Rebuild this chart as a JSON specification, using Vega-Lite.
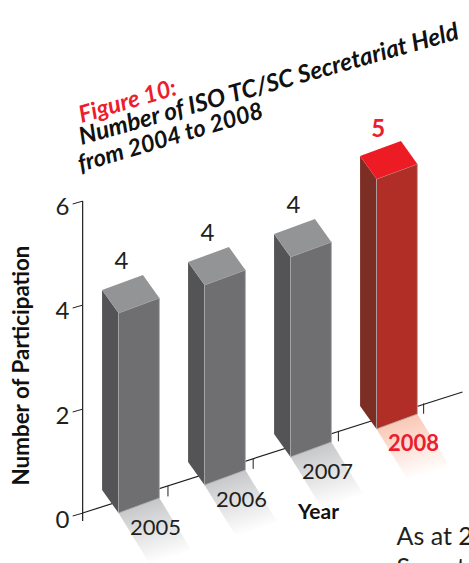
{
"$schema":"https://vega.github.io/schema/vega-lite/v6.json",
"width":469,"height":563,"padding":0,"autosize":{"type":"none"},"background":"white",
"config":{"view":{"stroke":null},"font":"Lato","axis":{"grid":false}},
"resolve":{"axis":{"x":"independent","y":"independent"}},
"datasets":{
"bars":[{"year":2005,"value":4},{"year":2006,"value":4},{"year":2007,"value":4},{"year":2008,"value":5}],
"ticks":[{"tick":0},{"tick":2},{"tick":4},{"tick":6}]
},
"layer":[
{"data":{"name":"ticks"},"mark":{"type":"rule","color":"#231f20","strokeWidth":1},
"transform":[{"calculate":"datum.tick+0.055","as":"tickEnd"}],
"encoding":{
"x":{"datum":2004.467,"type":"quantitative","scale":{"domain":[2003.622,2009.0756],"nice":false,"zero":false},
"axis":{"title":"Year","domain":false,"ticks":false,"labels":false,"titleX":318,"titleY":-51,"titleFontSize":21,"titleFontWeight":"bold","titleColor":"#111","titleBaseline":"middle"}},
"x2":{"datum":2004.583},
"y":{"field":"tick","type":"quantitative","scale":{"domain":[-0.9038,9.923],"nice":false,"zero":false},
"axis":{"values":[0,2,4,6],"title":"Number of Participation","domain":false,"ticks":false,"offset":-83,"labelPadding":14,"labelOffset":4,"labelFontSize":24,"labelColor":"#231f20","labelFontWeight":"normal","titleX":-50,"titleY":365,"titleFontSize":22.4,"titleFontWeight":"bold","titleColor":"#111"}},
"y2":{"field":"tickEnd"}}},
{"data":{"name":"ticks"},"transform":[{"filter":"datum.tick==0"}],"mark":{"type":"rule","color":"#231f20","strokeWidth":1.2},
"encoding":{"x":{"datum":2004.583,"type":"quantitative","axis":null},"y":{"datum":6.058,"type":"quantitative","axis":null},"y2":{"datum":-0.096}}},
{"data":{"name":"ticks"},"transform":[{"filter":"datum.tick==0"}],"mark":{"type":"rule","color":"#231f20","strokeWidth":1.2},
"encoding":{"x":{"datum":2004.583,"type":"quantitative","axis":null},"x2":{"datum":2009.0},"y":{"datum":0.0577,"type":"quantitative","axis":null},"y2":{"datum":2.385}}},
{"data":{"name":"bars"},"mark":{"type":"rule","color":"#231f20","strokeWidth":1},
"transform":[{"calculate":"datum.year+0.575+(datum.year-2005)*(-0.009)","as":"tx"},{"calculate":"0.577+(datum.year-2005)*0.5295","as":"ty"},{"calculate":"datum.ty-0.2","as":"ty2"}],
"encoding":{"x":{"field":"tx","type":"quantitative","axis":null},"y":{"field":"ty","type":"quantitative","axis":null},"y2":{"field":"ty2"}}},
{"data":{"name":"bars"},"mark":{"type":"line","interpolate":"linear-closed","strokeWidth":0,"stroke":null},
"transform":[
{"calculate":"0.0577+0.5385*(datum.year-2005)","as":"b"},
{"calculate":"[datum.year,datum.year+0.475,datum.year+0.846,datum.year+0.371]","as":"xs"},
{"calculate":"[datum.b,datum.b+0.288,datum.b-0.712,datum.b-1.0]","as":"ys"},
{"calculate":"[0,1,2,3]","as":"k"},
{"flatten":["xs","ys","k"]}],
"encoding":{"x":{"field":"xs","type":"quantitative","axis":null},"y":{"field":"ys","type":"quantitative","axis":null},"order":{"field":"k"},"detail":{"field":"year"},
"fill":{"condition":{"test":"datum.year==2008","value":{"gradient":"linear","x1":0.25,"y1":0.05,"x2":0.55,"y2":0.95,"stops":[{"offset":0,"color":"#f9c4b0"},{"offset":1,"color":"#ffffff"}]}},
"value":{"gradient":"linear","x1":0.25,"y1":0.05,"x2":0.55,"y2":0.95,"stops":[{"offset":0,"color":"#c3c4c6"},{"offset":1,"color":"#ffffff"}]}}}},
{"data":{"name":"bars"},"mark":{"type":"line","interpolate":"linear-closed","strokeWidth":0,"stroke":null},
"transform":[
{"calculate":"0.0577+0.5385*(datum.year-2005)","as":"b"},{"calculate":"datum.b+0.9615*datum.value","as":"t"},
{"calculate":"[datum.year,datum.year-0.191,datum.year-0.191,datum.year]","as":"xs"},
{"calculate":"[datum.b,datum.b+0.442,datum.t+0.442,datum.t]","as":"ys"},
{"calculate":"[0,1,2,3]","as":"k"},
{"flatten":["xs","ys","k"]}],
"encoding":{"x":{"field":"xs","type":"quantitative","axis":null},"y":{"field":"ys","type":"quantitative","axis":null},"order":{"field":"k"},"detail":{"field":"year"},
"fill":{"condition":{"test":"datum.year==2008","value":"#7d2e24"},"value":"#545355"}}},
{"data":{"name":"bars"},"mark":{"type":"line","interpolate":"linear-closed","strokeWidth":0.8,"stroke":"#a9a9ab"},
"transform":[
{"calculate":"0.0577+0.5385*(datum.year-2005)","as":"b"},{"calculate":"datum.b+0.9615*datum.value","as":"t"},
{"calculate":"[datum.year,datum.year+0.475,datum.year+0.475,datum.year]","as":"xs"},
{"calculate":"[datum.b,datum.b+0.288,datum.t+0.288,datum.t]","as":"ys"},
{"calculate":"[0,1,2,3]","as":"k"},
{"flatten":["xs","ys","k"]}],
"encoding":{"x":{"field":"xs","type":"quantitative","axis":null},"y":{"field":"ys","type":"quantitative","axis":null},"order":{"field":"k"},"detail":{"field":"year"},
"fill":{"condition":{"test":"datum.year==2008","value":"#b02e26"},"value":"#6f6f71"}}},
{"data":{"name":"bars"},"mark":{"type":"line","interpolate":"linear-closed","strokeWidth":0},
"transform":[
{"calculate":"0.0577+0.5385*(datum.year-2005)","as":"b"},{"calculate":"datum.b+0.9615*datum.value","as":"t"},
{"calculate":"[datum.year,datum.year+0.475,datum.year+0.284,datum.year-0.191]","as":"xs"},
{"calculate":"[datum.t,datum.t+0.288,datum.t+0.73,datum.t+0.442]","as":"ys"},
{"calculate":"[0,1,2,3]","as":"k"},
{"flatten":["xs","ys","k"]}],
"encoding":{"x":{"field":"xs","type":"quantitative","axis":null},"y":{"field":"ys","type":"quantitative","axis":null},"order":{"field":"k"},"detail":{"field":"year"},
"fill":{"condition":{"test":"datum.year==2008","value":"#ed1c24"},"value":"#939496"}}},
{"data":{"name":"bars"},"transform":[{"filter":"datum.year<2008"},
{"calculate":"0.0577+0.5385*(datum.year-2005)+0.9615*datum.value+0.98","as":"ly"},{"calculate":"datum.year+0.035","as":"lx"}],
"mark":{"type":"text","fontSize":24,"baseline":"middle","align":"center"},
"encoding":{"x":{"field":"lx","type":"quantitative","axis":null},"y":{"field":"ly","type":"quantitative","axis":null},"text":{"field":"value"},"color":{"value":"#231f20"}}},
{"data":{"name":"bars"},"transform":[{"filter":"datum.year==2008"},
{"calculate":"0.0577+0.5385*(datum.year-2005)+0.9615*datum.value+0.94","as":"ly"},{"calculate":"datum.year+0.02","as":"lx"}],
"mark":{"type":"text","fontSize":24,"fontWeight":"bold","baseline":"middle","align":"center"},
"encoding":{"x":{"field":"lx","type":"quantitative","axis":null},"y":{"field":"ly","type":"quantitative","axis":null},"text":{"field":"value"},"color":{"value":"#ed1c2e"}}},
{"data":{"name":"bars"},"mark":{"type":"text","fontSize":22,"baseline":"middle","align":"center"},
"transform":[{"filter":"datum.year<2008"},
{"calculate":"0.0577+0.5385*(datum.year-2005)-0.288","as":"ly"},{"calculate":"datum.year+0.429","as":"lx"}],
"encoding":{"x":{"field":"lx","type":"quantitative","axis":null},"y":{"field":"ly","type":"quantitative","axis":null},"text":{"field":"year"},"color":{"value":"#231f20"}}},
{"data":{"name":"bars"},"mark":{"type":"text","fontSize":22,"fontWeight":"bold","baseline":"middle","align":"center"},
"transform":[{"filter":"datum.year==2008"},
{"calculate":"0.0577+0.5385*(datum.year-2005)-0.288","as":"ly"},{"calculate":"datum.year+0.429","as":"lx"}],
"encoding":{"x":{"field":"lx","type":"quantitative","axis":null},"y":{"field":"ly","type":"quantitative","axis":null},"text":{"field":"year"},"color":{"value":"#ed1c2e"}}},
{"data":{"values":[{"t":"Figure 10:"}]},"mark":{"type":"text","fontSize":23.5,"fontStyle":"italic","fontWeight":"bold","angle":-16.5,"align":"left","baseline":"alphabetic"},
"encoding":{"x":{"datum":2004.571,"type":"quantitative","axis":null},"y":{"datum":7.558,"type":"quantitative","axis":null},"text":{"field":"t"},"color":{"value":"#ed1c2e"}}},
{"data":{"values":[{"t":"Number of ISO TC/SC Secretariat Held"}]},"mark":{"type":"text","fontSize":24.3,"fontStyle":"italic","fontWeight":"bold","angle":-15.7,"align":"left","baseline":"alphabetic"},
"encoding":{"x":{"datum":2004.571,"type":"quantitative","axis":null},"y":{"datum":7.135,"type":"quantitative","axis":null},"text":{"field":"t"},"color":{"value":"#111111"}}},
{"data":{"values":[{"t":"from 2004 to 2008"}]},"mark":{"type":"text","fontSize":23.5,"fontStyle":"italic","fontWeight":"bold","angle":-16.5,"align":"left","baseline":"alphabetic"},
"encoding":{"x":{"datum":2004.56,"type":"quantitative","axis":null},"y":{"datum":6.615,"type":"quantitative","axis":null},"text":{"field":"t"},"color":{"value":"#111111"}}},
{"data":{"values":[{"t":"As at 2"}]},"mark":{"type":"text","fontSize":25,"align":"left","baseline":"alphabetic"},
"encoding":{"x":{"datum":2008.233,"type":"quantitative","axis":null},"y":{"datum":-0.558,"type":"quantitative","axis":null},"text":{"field":"t"},"color":{"value":"#231f20"}}},
{"data":{"values":[{"t":"Secret"}]},"mark":{"type":"text","fontSize":25,"align":"left","baseline":"alphabetic"},
"encoding":{"x":{"datum":2008.233,"type":"quantitative","axis":null},"y":{"datum":-1.154,"type":"quantitative","axis":null},"text":{"field":"t"},"color":{"value":"#231f20"}}}
]
}
